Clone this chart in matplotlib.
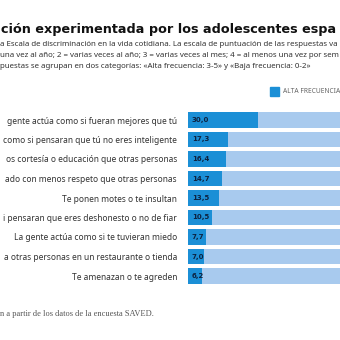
import numpy as np
import matplotlib.pyplot as plt
from matplotlib.patches import Rectangle

# data (percent answering "alta frecuencia")
labels = [
    "gente actúa como si fueran mejores que tú",
    "como si pensaran que tú no eres inteligente",
    "os cortesía o educación que otras personas",
    "ado con menos respeto que otras personas",
    "Te ponen motes o te insultan",
    "i pensaran que eres deshonesto o no de fiar",
    "La gente actúa como si te tuvieran miedo",
    "a otras personas en un restaurante o tienda",
    "Te amenazan o te agreden",
]
alta = [30.0, 17.3, 16.4, 14.7, 13.5, 10.5, 7.7, 7.0, 6.2]
baja = [100 - v for v in alta]

title = "ción experimentada por los adolescentes espa"
subtitle = [
    "a Escala de discriminación en la vida cotidiana. La escala de puntuación de las respuestas va",
    "una vez al año; 2 = varias veces al año; 3 = varias veces al mes; 4 = al menos una vez por sem",
    "puestas se agrupan en dos categorías: «Alta frecuencia: 3-5» y «Baja frecuencia: 0-2»",
]
legend_label = "ALTA FRECUENCIA"
source = "n a partir de los datos de la encuesta SAVED."

dark = "#1b8fd6"
light = "#a8caee"
sans = "Noto Sans"

W = H = 340
fig = plt.figure(figsize=(3.4, 3.4), dpi=100)


def fx(px):
    return px / W


def fy(py):
    return 1 - py / H


fig.text(fx(1), fy(33), title, fontsize=9.2, fontweight="bold", family="DejaVu Sans",
         color="#111111", va="baseline", ha="left")
for i, line in enumerate(subtitle):
    fig.text(fx(0), fy(46 + i * 11), line, fontsize=5.7, family=sans,
             color="#333333", va="baseline", ha="left")

fig.patches.append(Rectangle((fx(270), fy(96)), 9 / W, 9 / H, color=dark,
                             transform=fig.transFigure, figure=fig))
fig.text(fx(283), fy(91.5), legend_label, fontsize=4.8, family=sans,
         color="#666666", va="center", ha="left")

fig.text(fx(0), fy(316), source, fontsize=6, family="Liberation Serif",
         color="#555555", va="baseline", ha="left")

# axes runs past the right edge, as in the cropped original
ax = fig.add_axes([fx(188), fy(110.25 + 175.5), 233.33 / W, 175.5 / H])
y = np.arange(len(labels))
ax.barh(y, alta, height=0.77, color=dark)
ax.barh(y, baja, left=alta, height=0.77, color=light)
for yi, v in zip(y, alta):
    ax.text(1.7, yi, f"{v:.1f}".replace(".", ","), va="center", ha="left",
            fontsize=5, fontweight="bold", family="DejaVu Sans", color="#0d2240")

ax.set_xlim(0, 100)
ax.set_ylim(len(labels) - 0.5, -0.5)
ax.set_yticks(y)
ax.set_yticklabels(labels, fontsize=6.05, family=sans, color="#333333")
ax.tick_params(axis="y", length=0, pad=7.9)
ax.set_xticks([])
for s in ax.spines.values():
    s.set_visible(False)

fig.savefig("out.png", dpi=100)
